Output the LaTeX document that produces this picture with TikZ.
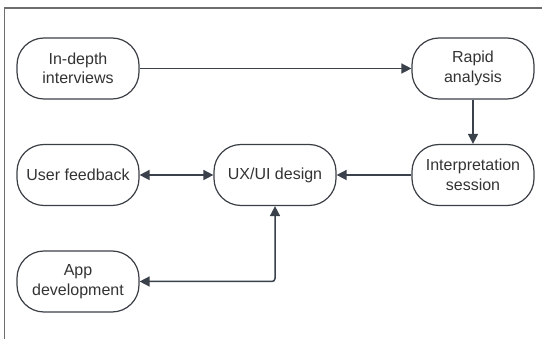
\documentclass[tikz,border=0pt]{standalone}
\usepackage{fontspec}
\setmainfont{Liberation Sans}
\usetikzlibrary{arrows.meta}
\definecolor{boxline}{HTML}{3A3F45}
\definecolor{arrowcol}{HTML}{3A414A}
\definecolor{framecol}{HTML}{6E6E6E}

\begin{document}
\begin{tikzpicture}[x=1pt, y=-1pt,
    stage/.style={draw=boxline, line width=1.2pt, rounded corners=27pt, minimum width=122pt, minimum height=61pt, align=center, text=black!80, font=\fontsize{16}{19.5}\selectfont},
    flow/.style={draw=arrowcol, line width=1.5pt, -{Triangle[length=10pt,width=10pt]}},
    twoway/.style={draw=arrowcol, line width=1.5pt, {Triangle[length=10pt,width=10pt]}-{Triangle[length=10pt,width=10pt]}}]

    \useasboundingbox (0,0) rectangle (542,339);

    % Frame
    \draw[framecol, line width=1.5pt] (4.5,339) -- (4.5,8) -- (542,8);

    % Top row
    \node[stage] (interviews) at (78,68.5) {In-depth\\interviews};
    \node[stage] (rapid) at (473,68.5) {Rapid\\analysis};

    % Middle row
    \node[stage] (feedback) at (78,175) {User feedback};
    \node[stage] (design) at (275,175) {UX/UI design};
    \node[stage] (session) at (473,175) {Interpretation\\session};

    % Bottom row
    \node[stage] (appdev) at (78,281.5) {App\\development};

    % Connectors
    \draw[flow] (interviews) -- (rapid);
    \draw[flow] (rapid) -- (session);
    \draw[flow] (session) -- (design);
    \draw[twoway] (feedback) -- (design);
    \draw[twoway, rounded corners=3pt] (appdev.east) -| (design.south);

\end{tikzpicture}
\end{document}
